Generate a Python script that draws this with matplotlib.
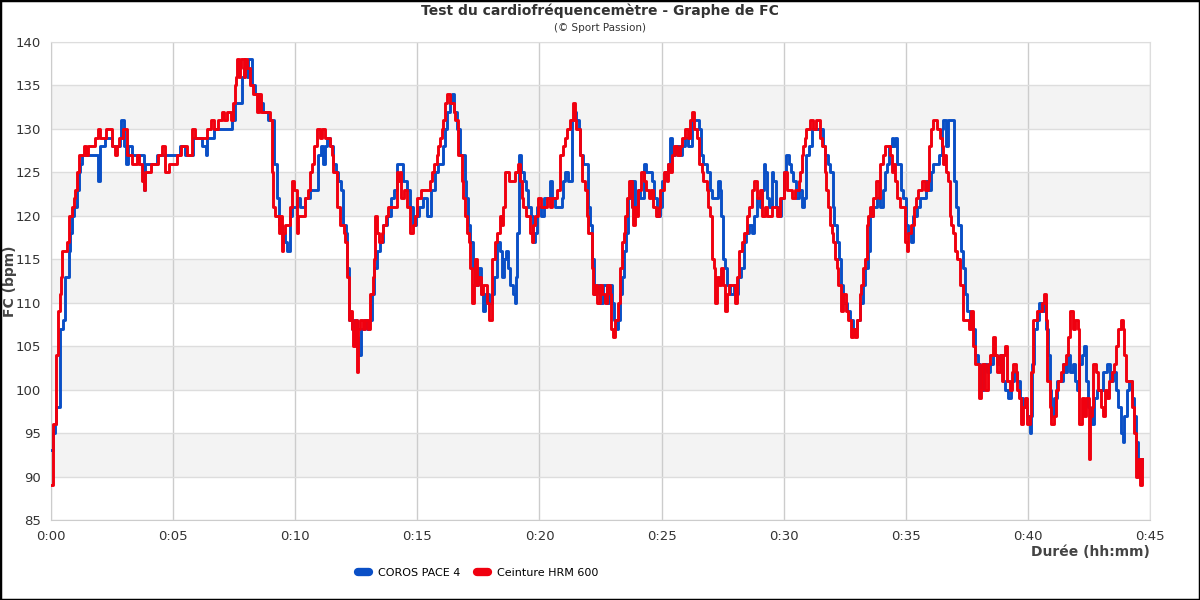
import numpy as np
import matplotlib
matplotlib.use("Agg")
import matplotlib.pyplot as plt
from matplotlib.patches import Rectangle
from matplotlib.ticker import FuncFormatter

# (temps en s, FC en bpm)
coros_pace4 = [
    (0, 93), (3, 93), (6, 95), (10, 96), (13, 98), (21, 107), (27, 107), (30, 108), (35, 113), (43, 116), (46, 118),
    (51, 120), (56, 121), (64, 123), (68, 125), (72, 126), (76, 127), (110, 127), (116, 124), (121, 128), (133, 129),
    (150, 128), (170, 129), (173, 131), (180, 128), (184, 126), (190, 128), (200, 127), (210, 127), (228, 123),
    (232, 126), (260, 127), (300, 127), (318, 128), (330, 127), (345, 127), (350, 129), (372, 128), (380, 127),
    (384, 129), (400, 130), (416, 130), (445, 131), (452, 133), (469, 136), (474, 137), (481, 136), (485, 138),
    (491, 138), (493, 135), (501, 134), (510, 133), (522, 132), (534, 131), (545, 131), (549, 126), (555, 122),
    (561, 119), (567, 118), (575, 117), (581, 116), (586, 120), (592, 121), (604, 122), (612, 121), (624, 122),
    (637, 123), (651, 123), (657, 127), (663, 128), (668, 126), (673, 128), (679, 129), (686, 128), (694, 126),
    (700, 125), (706, 124), (712, 123), (718, 119), (725, 118), (728, 114), (732, 108), (739, 107), (745, 108),
    (751, 106), (755, 104), (761, 107), (768, 108), (776, 107), (782, 108), (788, 111), (794, 114), (800, 116),
    (809, 117), (815, 119), (825, 120), (835, 122), (843, 123), (850, 126), (859, 126), (866, 124), (874, 123),
    (882, 121), (889, 119), (897, 120), (905, 121), (915, 122), (923, 120), (933, 123), (944, 125), (952, 126),
    (964, 128), (968, 130), (974, 132), (981, 133), (986, 134), (991, 132), (997, 130), (1004, 127), (1012, 127),
    (1016, 124), (1020, 122), (1024, 119), (1030, 117), (1036, 114), (1042, 112), (1050, 114), (1057, 111),
    (1061, 109), (1067, 111), (1075, 110), (1083, 111), (1089, 113), (1095, 117), (1102, 116), (1108, 113),
    (1112, 115), (1118, 116), (1122, 114), (1128, 112), (1135, 111), (1139, 110), (1143, 113), (1146, 118),
    (1150, 127), (1155, 125), (1161, 124), (1167, 123), (1173, 121), (1179, 120), (1184, 117), (1190, 118),
    (1195, 121), (1203, 120), (1212, 122), (1222, 122), (1226, 124), (1232, 122), (1239, 121), (1249, 121),
    (1255, 122), (1259, 124), (1263, 125), (1269, 124), (1277, 124), (1281, 131), (1286, 132), (1290, 131),
    (1296, 130), (1300, 127), (1307, 126), (1315, 126), (1319, 121), (1325, 119), (1330, 115), (1334, 111),
    (1341, 112), (1349, 110), (1357, 112), (1366, 110), (1372, 112), (1378, 110), (1384, 108), (1390, 107),
    (1394, 108), (1397, 111), (1403, 113), (1408, 116), (1413, 118), (1417, 122), (1423, 124), (1427, 121),
    (1431, 124), (1435, 121), (1441, 123), (1448, 122), (1456, 126), (1462, 125), (1471, 125), (1476, 124),
    (1482, 122), (1489, 120), (1495, 121), (1501, 124), (1509, 125), (1515, 126), (1520, 129), (1526, 127),
    (1534, 128), (1542, 127), (1550, 128), (1558, 129), (1566, 128), (1575, 131), (1583, 131), (1591, 130),
    (1597, 127), (1603, 126), (1611, 125), (1618, 123), (1624, 122), (1632, 122), (1638, 124), (1643, 123),
    (1647, 120), (1650, 115), (1655, 114), (1661, 112), (1669, 111), (1677, 112), (1684, 111), (1689, 113),
    (1695, 114), (1702, 117), (1708, 118), (1714, 119), (1722, 118), (1728, 120), (1734, 122), (1741, 121),
    (1747, 123), (1751, 126), (1755, 125), (1759, 122), (1765, 121), (1771, 125), (1775, 124), (1782, 121),
    (1788, 120), (1793, 122), (1800, 125), (1806, 127), (1812, 126), (1818, 125), (1824, 124), (1831, 122),
    (1837, 123), (1845, 121), (1851, 122), (1856, 127), (1863, 128), (1869, 130), (1881, 130), (1891, 130),
    (1896, 128), (1901, 127), (1910, 126), (1915, 125), (1920, 121), (1924, 119), (1930, 117), (1935, 115),
    (1940, 112), (1946, 110), (1955, 109), (1963, 108), (1971, 107), (1981, 108), (1987, 110), (1994, 112),
    (2001, 114), (2006, 116), (2012, 120), (2020, 121), (2030, 122), (2037, 121), (2043, 123), (2050, 125),
    (2055, 126), (2059, 128), (2065, 129), (2069, 128), (2073, 129), (2078, 126), (2084, 126), (2088, 123),
    (2094, 122), (2100, 119), (2106, 118), (2113, 117), (2118, 120), (2127, 121), (2135, 122), (2143, 122),
    (2150, 124), (2155, 123), (2161, 125), (2168, 126), (2176, 126), (2182, 127), (2188, 130), (2192, 131),
    (2198, 128), (2204, 131), (2213, 131), (2218, 124), (2223, 121), (2229, 119), (2235, 116), (2240, 114),
    (2245, 111), (2251, 109), (2258, 108), (2264, 107), (2270, 104), (2277, 103), (2282, 101), (2286, 100),
    (2292, 103), (2299, 102), (2307, 103), (2315, 104), (2323, 103), (2332, 104), (2338, 101), (2344, 100),
    (2352, 99), (2358, 101), (2366, 102), (2374, 101), (2381, 99), (2389, 98), (2397, 97), (2404, 95), (2407, 97),
    (2411, 103), (2416, 107), (2422, 108), (2428, 110), (2434, 109), (2440, 110), (2445, 107), (2450, 104),
    (2454, 100), (2458, 97), (2464, 99), (2471, 101), (2479, 101), (2486, 103), (2491, 102), (2497, 104),
    (2504, 102), (2510, 103), (2516, 101), (2520, 100), (2526, 103), (2532, 104), (2539, 105), (2543, 101),
    (2547, 98), (2553, 97), (2557, 96), (2563, 99), (2569, 100), (2577, 100), (2584, 102), (2590, 102),
    (2595, 103), (2602, 101), (2610, 102), (2617, 100), (2622, 98), (2628, 95), (2633, 94), (2637, 97),
    (2643, 100), (2649, 101), (2655, 99), (2661, 97), (2666, 94), (2671, 92), (2677, 91), (2680, 92),
]

hrm_600 = [
    (0, 89), (2, 89), (6, 96), (11, 96), (13, 104), (16, 109), (21, 111), (24, 113), (28, 116), (39, 117), (43, 120),
    (51, 121), (56, 122), (60, 123), (64, 125), (68, 127), (76, 127), (80, 128), (86, 127), (92, 128), (97, 128),
    (109, 129), (115, 130), (121, 129), (133, 129), (134, 130), (150, 128), (158, 127), (162, 128), (166, 129),
    (176, 130), (187, 127), (200, 126), (211, 127), (216, 126), (224, 124), (228, 123), (232, 125), (245, 126),
    (264, 127), (272, 128), (281, 125), (290, 126), (310, 127), (320, 128), (334, 127), (346, 130), (355, 129),
    (383, 130), (392, 131), (400, 130), (410, 131), (420, 132), (426, 131), (432, 132), (442, 131), (447, 133),
    (451, 135), (454, 136), (458, 138), (462, 136), (465, 137), (468, 138), (473, 136), (477, 138), (481, 137),
    (489, 135), (497, 134), (505, 132), (510, 134), (516, 132), (522, 132), (538, 131), (542, 125), (546, 121),
    (550, 120), (559, 118), (563, 120), (567, 116), (571, 118), (575, 119), (588, 121), (592, 124), (596, 123),
    (604, 118), (608, 120), (612, 120), (625, 122), (631, 123), (637, 125), (641, 126), (645, 128), (653, 130),
    (660, 129), (666, 130), (674, 129), (686, 128), (690, 127), (694, 125), (702, 121), (710, 119), (719, 118),
    (723, 117), (728, 113), (731, 108), (735, 109), (739, 107), (743, 105), (747, 108), (751, 102), (755, 107),
    (760, 108), (766, 107), (772, 108), (780, 107), (784, 111), (790, 113), (794, 115), (797, 120), (800, 118),
    (806, 117), (812, 118), (816, 119), (824, 120), (829, 121), (841, 121), (849, 125), (853, 124), (857, 125),
    (861, 122), (867, 123), (874, 121), (882, 118), (890, 119), (894, 120), (898, 122), (910, 123), (919, 123),
    (931, 124), (935, 125), (940, 126), (948, 127), (952, 128), (956, 129), (960, 130), (964, 131), (968, 133),
    (972, 134), (980, 133), (989, 132), (993, 131), (997, 131), (1001, 127), (1009, 124), (1013, 122), (1017, 120),
    (1022, 118), (1026, 117), (1030, 114), (1034, 110), (1038, 112), (1042, 115), (1046, 112), (1050, 113),
    (1056, 111), (1062, 112), (1070, 110), (1076, 108), (1083, 115), (1087, 115), (1091, 117), (1095, 118),
    (1103, 120), (1107, 119), (1111, 121), (1116, 125), (1120, 125), (1124, 124), (1136, 124), (1140, 125),
    (1144, 125), (1148, 126), (1152, 124), (1156, 122), (1160, 121), (1168, 120), (1177, 118), (1181, 117),
    (1185, 119), (1190, 120), (1197, 122), (1205, 121), (1218, 122), (1226, 121), (1232, 122), (1238, 122),
    (1244, 123), (1250, 127), (1259, 128), (1263, 129), (1267, 130), (1275, 131), (1283, 133), (1287, 131),
    (1291, 130), (1300, 127), (1304, 124), (1308, 124), (1312, 123), (1316, 120), (1320, 118), (1328, 114),
    (1332, 111), (1336, 112), (1342, 110), (1348, 112), (1353, 111), (1360, 110), (1366, 112), (1373, 111),
    (1377, 107), (1381, 106), (1385, 108), (1394, 110), (1399, 114), (1403, 117), (1407, 118), (1411, 120),
    (1415, 122), (1419, 124), (1425, 124), (1427, 121), (1431, 119), (1435, 121), (1439, 120), (1443, 123),
    (1450, 125), (1456, 124), (1462, 123), (1468, 122), (1474, 123), (1480, 121), (1486, 120), (1493, 121),
    (1497, 123), (1505, 125), (1513, 124), (1517, 126), (1521, 125), (1525, 127), (1530, 128), (1538, 127),
    (1546, 128), (1550, 129), (1558, 130), (1566, 129), (1570, 131), (1574, 132), (1579, 130), (1587, 129),
    (1591, 126), (1599, 125), (1603, 124), (1611, 123), (1615, 121), (1620, 120), (1624, 115), (1628, 114),
    (1632, 110), (1636, 113), (1640, 112), (1646, 114), (1652, 112), (1656, 109), (1660, 111), (1666, 112),
    (1674, 112), (1680, 110), (1685, 113), (1691, 116), (1697, 117), (1703, 118), (1710, 120), (1716, 121),
    (1722, 123), (1728, 124), (1735, 122), (1741, 123), (1747, 120), (1753, 121), (1759, 120), (1771, 121),
    (1783, 120), (1792, 122), (1800, 125), (1808, 123), (1820, 122), (1829, 123), (1837, 124), (1841, 125),
    (1845, 127), (1848, 128), (1852, 129), (1856, 130), (1864, 131), (1872, 130), (1880, 131), (1889, 129),
    (1895, 128), (1901, 125), (1905, 123), (1909, 121), (1914, 119), (1918, 118), (1922, 117), (1926, 115),
    (1930, 114), (1934, 112), (1940, 109), (1946, 111), (1952, 109), (1959, 108), (1965, 106), (1971, 107),
    (1975, 106), (1981, 108), (1987, 111), (1991, 112), (1995, 114), (2000, 115), (2004, 119), (2008, 120),
    (2012, 121), (2016, 120), (2020, 122), (2026, 124), (2033, 122), (2037, 126), (2043, 127), (2049, 128),
    (2061, 127), (2065, 125), (2069, 126), (2073, 124), (2079, 122), (2086, 121), (2094, 121), (2098, 117),
    (2102, 116), (2106, 118), (2112, 119), (2119, 121), (2125, 122), (2131, 123), (2140, 124), (2148, 123),
    (2154, 124), (2156, 128), (2162, 130), (2168, 131), (2176, 130), (2184, 129), (2188, 128), (2192, 126),
    (2196, 127), (2200, 125), (2204, 124), (2208, 120), (2212, 119), (2217, 118), (2221, 116), (2227, 115),
    (2233, 112), (2241, 108), (2249, 108), (2255, 107), (2261, 109), (2265, 105), (2271, 103), (2279, 99),
    (2284, 100), (2288, 103), (2295, 100), (2303, 103), (2308, 104), (2315, 106), (2319, 104), (2323, 102),
    (2332, 104), (2336, 101), (2340, 104), (2344, 105), (2348, 101), (2356, 100), (2360, 102), (2364, 103),
    (2371, 102), (2374, 100), (2379, 99), (2383, 96), (2389, 98), (2393, 99), (2399, 96), (2404, 97), (2407, 102),
    (2413, 108), (2422, 109), (2434, 110), (2440, 111), (2445, 108), (2448, 101), (2454, 98), (2458, 96),
    (2463, 97), (2468, 100), (2475, 101), (2481, 102), (2487, 103), (2494, 104), (2499, 106), (2504, 109),
    (2510, 107), (2516, 108), (2522, 107), (2526, 96), (2532, 99), (2538, 97), (2543, 99), (2549, 92), (2553, 97),
    (2557, 98), (2561, 103), (2567, 102), (2573, 100), (2579, 98), (2584, 97), (2590, 100), (2595, 99),
    (2600, 101), (2606, 102), (2612, 103), (2617, 105), (2622, 107), (2628, 108), (2633, 107), (2637, 104),
    (2641, 101), (2649, 101), (2655, 98), (2661, 95), (2666, 90), (2671, 92), (2676, 89), (2680, 92),
]

series_names = ["COROS PACE 4", "Ceinture HRM 600"]
series_colors = ["#0a4fc6", "#f0000f"]

fig = plt.figure(figsize=(12, 6), dpi=100)
ax = fig.add_axes([51 / 1200, 80 / 600, 1099 / 1200, 478 / 600])

# bandes alternées
for lo in range(90, 140, 10):
    ax.axhspan(lo, lo + 5, color="#f3f3f3", zorder=0, lw=0)
ax.set_ylim(85, 140)
ax.set_xlim(0, 45)
ax.set_yticks(np.arange(85, 141, 5))
ax.set_xticks(np.arange(0, 46, 5))
ax.xaxis.set_major_formatter(FuncFormatter(lambda v, p: "%d:%02d" % (v // 60, v % 60)))
ax.grid(axis="y", color="#dddddd", lw=1, zorder=1)
ax.grid(axis="x", color="#cccccc", lw=1, zorder=1)
ax.set_axisbelow(True)
for s in ax.spines.values():
    s.set_color("#dddddd")
ax.spines["left"].set_color("#cccccc")
ax.spines["bottom"].set_color("#cccccc")
ax.tick_params(length=0, labelsize=9.5, colors="#333333", pad=7)

for data, name, col, z in zip([coros_pace4, hrm_600], series_names, series_colors, [3, 4]):
    t = np.array([p[0] for p in data]) / 60.0
    v = [p[1] for p in data]
    ax.plot(t, v, drawstyle="steps-post", color=col, lw=2.1, label=name, zorder=z)

ax.set_ylabel("FC (bpm)", fontsize=10, fontweight="bold", color="#444444")
ax.yaxis.set_label_coords(-0.031, 0.5)
fig.text(1150 / 1200, 1 - 552 / 600, "Durée (hh:mm)", ha="right", va="center", fontsize=10,
         fontweight="bold", color="#444444")

fig.text(0.5, 1 - 11 / 600, "Test du cardiofréquencemètre - Graphe de FC", ha="center", va="center",
         fontsize=10, fontweight="bold", color="#333333")
fig.text(0.5, 1 - 28 / 600, "(© Sport Passion)", ha="center", va="center", fontsize=7.5, color="#333333")

leg = fig.legend(loc="center", bbox_to_anchor=(478 / 1200, 1 - 573 / 600), ncol=2, frameon=False,
                 fontsize=8, handlelength=1.0, handletextpad=0.8, columnspacing=1.5)
for h in leg.legend_handles:
    h.set_linewidth(6)
    h.set_solid_capstyle("round")

fig.add_artist(Rectangle((0, 0), 1, 1, transform=fig.transFigure, fill=False, ec="black", lw=2.5))
fig.savefig("out.png", dpi=100)
